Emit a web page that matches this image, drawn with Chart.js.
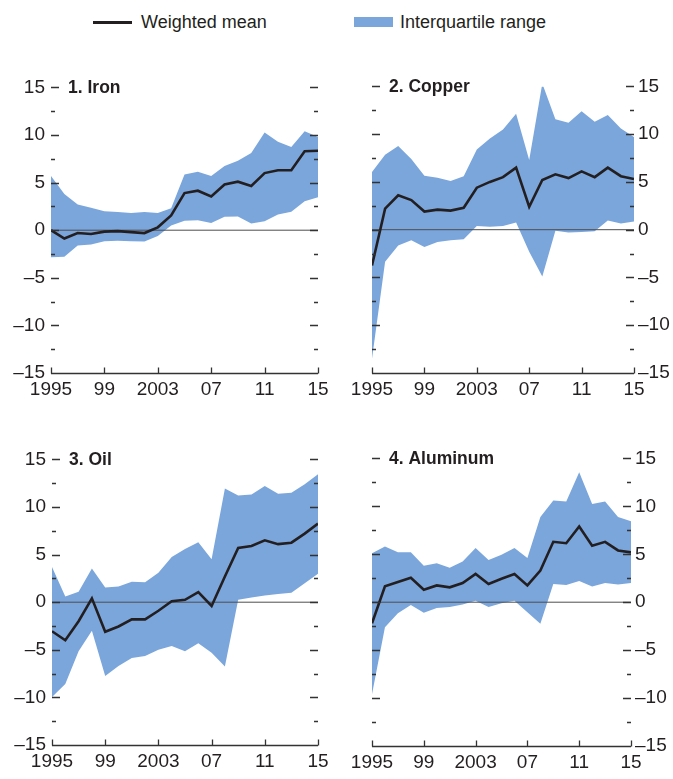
<!DOCTYPE html>
<html>
<head>
<meta charset="utf-8">
<title>Commodity panels</title>
<script src="https://cdn.jsdelivr.net/npm/chart.js@4.4.0/dist/chart.umd.min.js"></script>
<style>
    body { margin: 0; width: 673px; height: 779px; position: relative; overflow: hidden; background: #fff;
           font-family: 'Liberation Sans', Arial, sans-serif; color: #231f20; }
    canvas { position: absolute; }
    #c-iron     { left: 0;     top: 70px;  }
    #c-copper   { left: 336px; top: 71px;  }
    #c-oil      { left: 0;     top: 442px; }
    #c-aluminum { left: 336px; top: 443px; }
    .legend-item { position: absolute; top: 11px; font-size: 18px; line-height: 22px; white-space: nowrap; }
    .legend-line { position: absolute; left: 93px; top: 21px; width: 39px; height: 3px; background: #231f20; }
    .legend-box  { position: absolute; left: 354px; top: 17px; width: 39px; height: 10px; background: #7aa6dc; }
</style>
</head>
<body>
<div class="legend-line"></div>
<div class="legend-item" style="left: 141px;">Weighted mean</div>
<div class="legend-box"></div>
<div class="legend-item" style="left: 400px;">Interquartile range</div>

<canvas id="c-iron" width="336" height="333"></canvas>
<canvas id="c-copper" width="337" height="332"></canvas>
<canvas id="c-oil" width="336" height="333"></canvas>
<canvas id="c-aluminum" width="337" height="333"></canvas>

<script>
/*****************************  Data  ********************************/
var years = [1995, 1996, 1997, 1998, 1999, 2000, 2001, 2002, 2003, 2004, 2005,
             2006, 2007, 2008, 2009, 2010, 2011, 2012, 2013, 2014, 2015];
var xTickYears = [1995, 1999, 2003, 2007, 2011, 2015];
var xTickLabels = ['1995', '99', '2003', '07', '11', '15'];
var yTicks = [-15, -10, -5, 0, 5, 10, 15];

var ironMean  = [0, -0.87, -0.3, -0.4, -0.15, -0.1, -0.2, -0.3, 0.3, 1.55, 3.9, 4.15, 3.55, 4.8, 5.1, 4.65, 6.0, 6.3, 6.3, 8.3, 8.35];
var ironUpper = [5.7, 3.8, 2.7, 2.35, 2.0, 1.9, 1.8, 1.9, 1.8, 2.3, 5.85, 6.15, 5.7, 6.75, 7.3, 8.1, 10.25, 9.3, 8.75, 10.4, 9.8];
var ironLower = [-2.85, -2.8, -1.6, -1.5, -1.15, -1.1, -1.15, -1.2, -0.6, 0.5, 1.0, 1.05, 0.75, 1.4, 1.45, 0.7, 0.95, 1.65, 1.95, 3.05, 3.45];

var copperMean  = [-3.75, 2.2, 3.6, 3.1, 1.9, 2.1, 2.0, 2.3, 4.4, 5.0, 5.5, 6.5, 2.4, 5.2, 5.8, 5.4, 6.1, 5.5, 6.5, 5.6, 5.3];
var copperUpper = [6.05, 7.85, 8.75, 7.4, 5.65, 5.45, 5.1, 5.6, 8.4, 9.55, 10.5, 12.15, 7.3, 15.3, 11.55, 11.2, 12.4, 11.3, 12.0, 10.6, 9.7];
var copperLower = [-13.5, -3.35, -1.65, -1.1, -1.8, -1.3, -1.1, -1.0, 0.4, 0.3, 0.4, 0.75, -2.3, -4.9, -0.1, -0.3, -0.25, -0.15, 0.95, 0.65, 0.85];

var oilMean  = [-3.05, -4.0, -2.0, 0.4, -3.1, -2.55, -1.8, -1.8, -0.9, 0.1, 0.25, 1.05, -0.4, 2.7, 5.7, 5.9, 6.5, 6.1, 6.25, 7.2, 8.25];
var oilUpper = [3.7, 0.6, 1.1, 3.55, 1.55, 1.65, 2.15, 2.1, 3.1, 4.75, 5.6, 6.3, 4.5, 11.95, 11.2, 11.3, 12.2, 11.4, 11.5, 12.4, 13.45];
var oilLower = [-9.95, -8.6, -5.15, -3.0, -7.75, -6.7, -5.85, -5.65, -5.0, -4.6, -5.15, -4.3, -5.3, -6.75, 0.25, 0.5, 0.7, 0.85, 1.0, 2.0, 3.0];

var aluMean  = [-2.2, 1.65, 2.1, 2.55, 1.3, 1.75, 1.55, 2.0, 2.95, 1.9, 2.45, 2.95, 1.75, 3.3, 6.3, 6.15, 7.9, 5.9, 6.3, 5.4, 5.2];
var aluUpper = [5.1, 5.8, 5.2, 5.2, 3.8, 4.05, 3.6, 4.25, 5.65, 4.4, 4.95, 5.65, 4.6, 8.9, 10.6, 10.5, 13.55, 10.25, 10.5, 8.9, 8.45];
var aluLower = [-9.6, -2.6, -1.15, -0.3, -1.1, -0.6, -0.5, -0.25, 0.15, -0.5, -0.1, 0.15, -1.05, -2.25, 1.9, 1.8, 2.2, 1.65, 2.0, 1.85, 2.0];

/****************************  Styles  *******************************/
var textColor = '#231f20', bandColor = '#7aa6dc', zeroColor = '#4d4d4d', tickColor = '#333333';
var fontFamily = "'Liberation Sans', Arial, sans-serif";

var panels = [
    { canvas: 'c-iron',     title: '1. Iron',     mean: ironMean,   upper: ironUpper,   lower: ironLower,   side: 'left',  yWidth: 51, padLeft: 0,  padRight: 18, yPad: 6 },
    { canvas: 'c-copper',   title: '2. Copper',   mean: copperMean, upper: copperUpper, lower: copperLower, side: 'right', yWidth: 39, padLeft: 36, padRight: 0,  yPad: 4 },
    { canvas: 'c-oil',      title: '3. Oil',      mean: oilMean,    upper: oilUpper,    lower: oilLower,    side: 'left',  yWidth: 52, padLeft: 0,  padRight: 18, yPad: 6 },
    { canvas: 'c-aluminum', title: '4. Aluminum', mean: aluMean,    upper: aluUpper,    lower: aluLower,    side: 'right', yWidth: 42, padLeft: 36, padRight: 0,  yPad: 4 }
];

// zero line under the mean, inward tick marks on both sides, bottom axis and panel title
var framePlugin = {
    id: 'frame',
    beforeDatasetDraw: function(chart, args) {
        if (args.index !== 0) return;
        var a = chart.chartArea, c = chart.ctx, y0 = chart.scales.y.getPixelForValue(0);
        c.save();
        c.strokeStyle = zeroColor;
        c.lineWidth = 1;
        c.beginPath();
        c.moveTo(a.left, y0);
        c.lineTo(a.right, y0);
        c.stroke();
        c.restore();
    },
    afterDatasetsDraw: function(chart, args, opts) {
        var a = chart.chartArea, c = chart.ctx, ys = chart.scales.y, xs = chart.scales.x;
        c.save();
        c.strokeStyle = tickColor;
        c.lineWidth = 1.3;
        c.beginPath();
        for (var v = -12.5; v <= 15; v += 2.5) {
            var y = Math.round(ys.getPixelForValue(v)) + 0.5;
            var len = (v % 5 === 0) ? 8 : 4;
            c.moveTo(a.left, y);
            c.lineTo(a.left + len, y);
            c.moveTo(a.right - len, y);
            c.lineTo(a.right, y);
        }
        var yb = Math.round(a.bottom) + 0.5;
        c.moveTo(a.left, yb);
        c.lineTo(a.right, yb);
        for (var i = 0; i < xTickYears.length; i++) {
            var x = Math.round(xs.getPixelForValue(xTickYears[i])) + 0.5;
            c.moveTo(x, yb);
            c.lineTo(x, yb - 6);
        }
        c.stroke();
        c.fillStyle = textColor;
        c.font = 'bold 17.5px ' + fontFamily;
        c.textBaseline = 'middle';
        c.textAlign = 'left';
        c.fillText(opts.title, a.left + 17, ys.getPixelForValue(15) + 1);
        c.restore();
    }
};

function yLabel(v) {
    return v < 0 ? '\u2013' + (-v) : '' + v;
}

function makeChart(p) {
    var ctx = document.getElementById(p.canvas);
    return new Chart(ctx, {
        type: 'line',
        data: {
            labels: years,
            datasets: [
                { label: 'Weighted mean', data: p.mean, borderColor: textColor, borderWidth: 2.6,
                  pointRadius: 0, fill: false, tension: 0, order: 0 },
                { label: 'Interquartile range', data: p.upper, borderColor: 'rgba(0,0,0,0)', borderWidth: 1,
                  backgroundColor: bandColor, pointRadius: 0, fill: '+1', tension: 0, order: 1 },
                { label: 'Lower quartile', data: p.lower, borderColor: 'rgba(0,0,0,0)', borderWidth: 1,
                  pointRadius: 0, fill: false, tension: 0, order: 2 }
            ]
        },
        options: {
            responsive: false,
            animation: false,
            events: [],
            layout: { padding: { top: 15, bottom: 0, left: p.padLeft, right: p.padRight } },
            plugins: {
                legend: { display: false },
                tooltip: { enabled: false },
                frame: { title: p.title }
            },
            scales: {
                x: {
                    type: 'linear',
                    min: 1995,
                    max: 2015,
                    grid: { display: false, drawTicks: false },
                    border: { display: false },
                    afterBuildTicks: function(s) {
                        s.ticks = xTickYears.map(function(v) { return { value: v }; });
                    },
                    afterFit: function(s) { s.height = 30; },
                    ticks: {
                        autoSkip: false,
                        maxRotation: 0,
                        padding: 5,
                        color: textColor,
                        font: { family: fontFamily, size: 19 },
                        callback: function(v) { return xTickLabels[xTickYears.indexOf(v)]; }
                    }
                },
                y: {
                    position: p.side,
                    min: -15,
                    max: 15,
                    grid: { display: false, drawTicks: false },
                    border: { display: false },
                    afterBuildTicks: function(s) {
                        s.ticks = yTicks.map(function(v) { return { value: v }; });
                    },
                    afterFit: function(s) { s.width = p.yWidth; },
                    ticks: {
                        padding: p.yPad,
                        color: textColor,
                        font: { family: fontFamily, size: 19 },
                        callback: yLabel
                    }
                }
            }
        },
        plugins: [framePlugin]
    });
}

panels.forEach(makeChart);
</script>
</body>
</html>
